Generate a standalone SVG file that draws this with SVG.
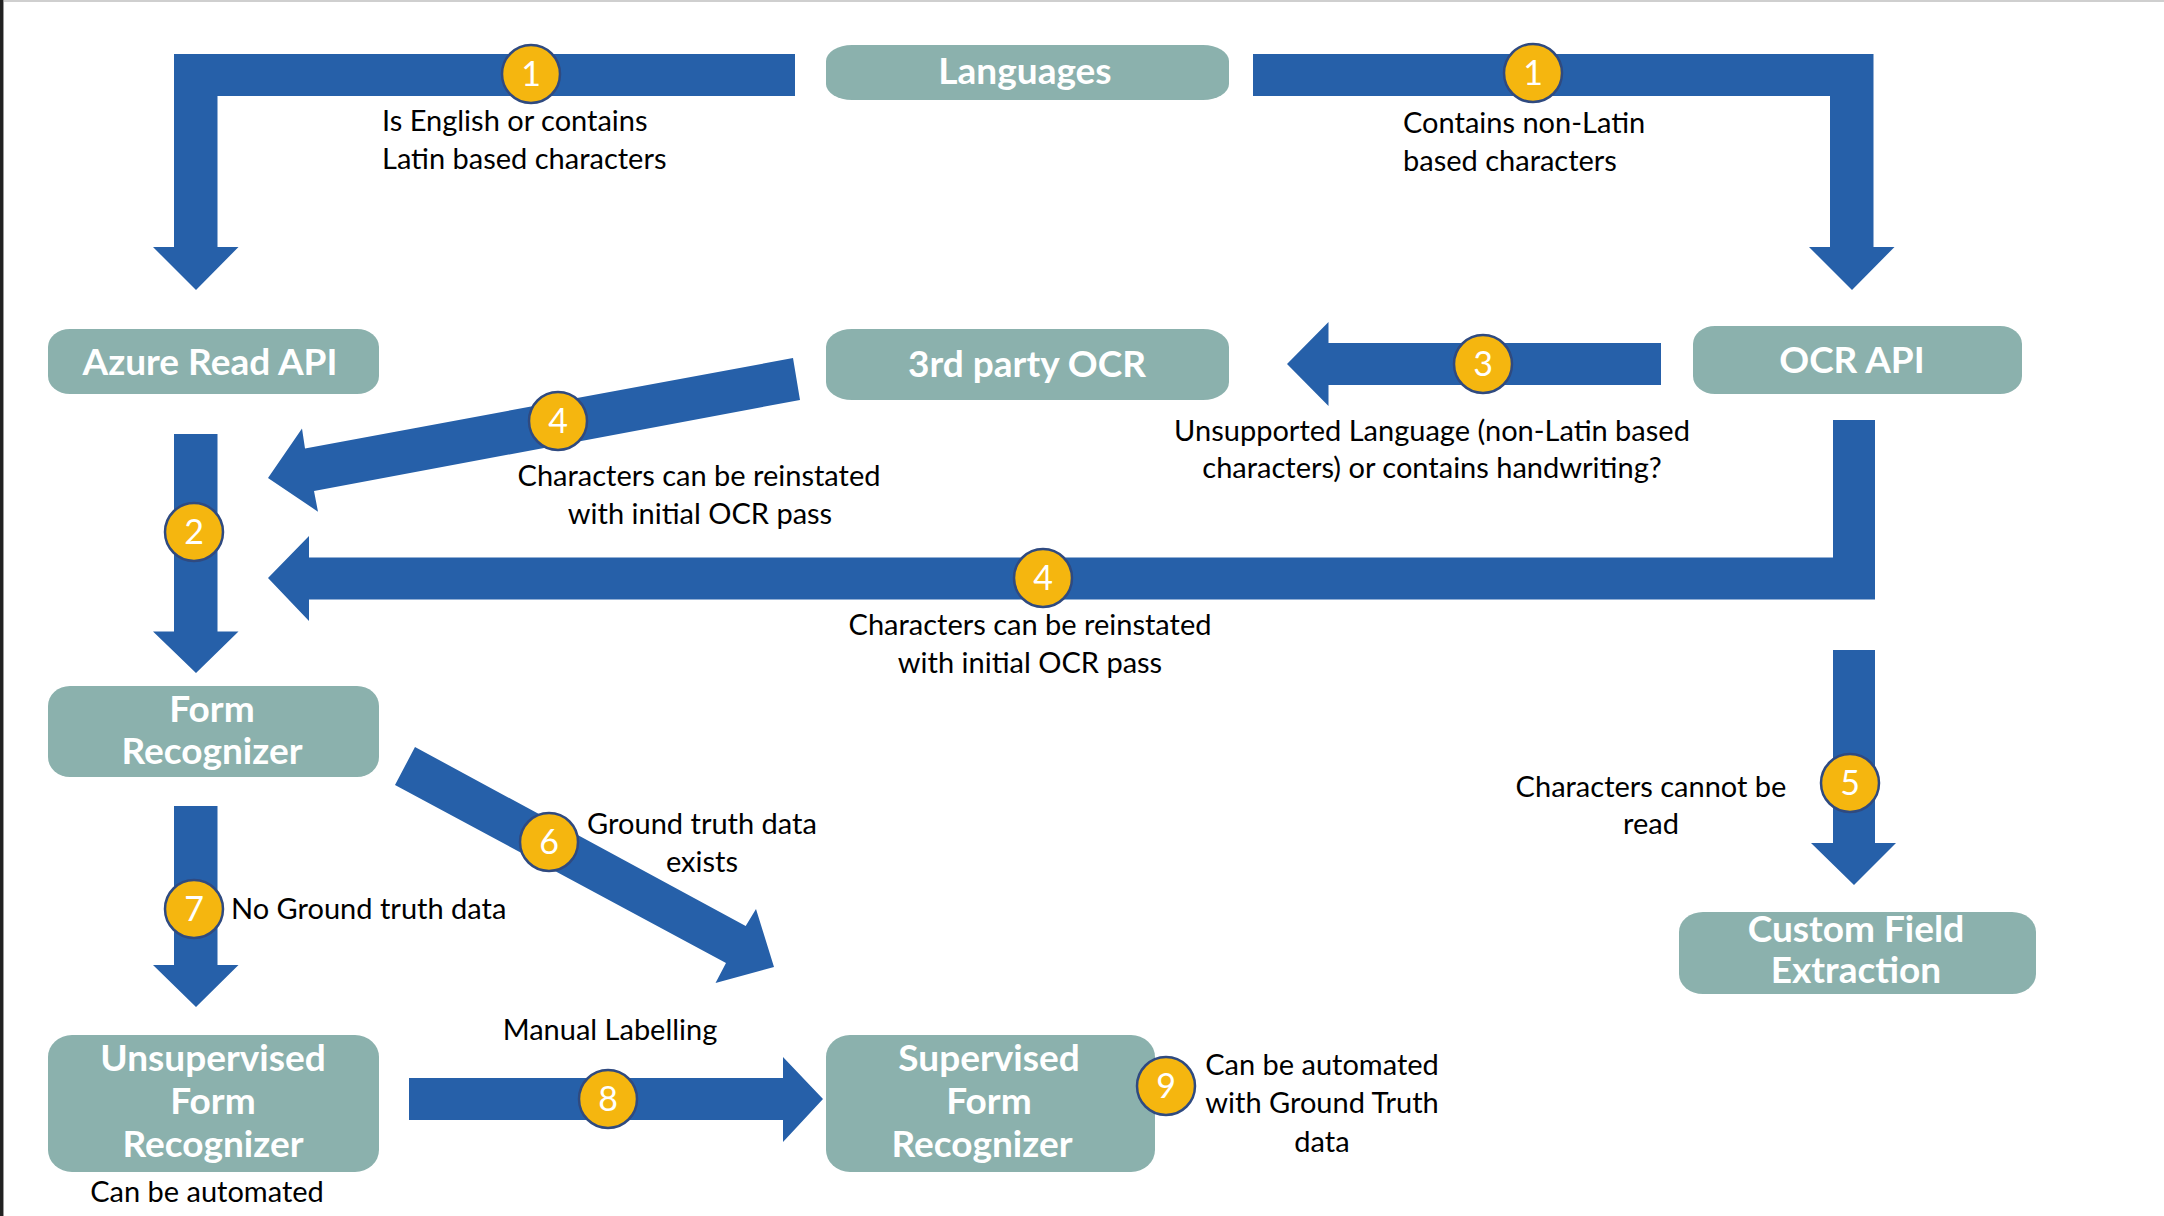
<svg xmlns="http://www.w3.org/2000/svg" width="2164" height="1216" viewBox="0 0 2164 1216">
<defs>
<style>
.node rect{fill:#8BB1AD;}
.node text{font-family:Lato,"Open Sans","Liberation Sans",sans-serif;font-weight:bold;font-size:37px;fill:#FFFFFF;text-anchor:middle;}
.arrow{fill:#2660A9;}
.badge circle{fill:#F5B60F;stroke:#2F4A80;stroke-width:2.5;}
.badge text{font-family:Lato,"Open Sans","Liberation Sans",sans-serif;font-size:34px;fill:#FFFFFF;text-anchor:middle;}
.lbl{font-family:Lato,"Open Sans","Liberation Sans",sans-serif;font-size:29px;fill:#000000;}
.mid{text-anchor:middle;}
</style>
</defs>
<rect x="0" y="0" width="2164" height="1216" fill="#FFFFFF"/>
<rect x="0" y="0" width="2164" height="2" fill="#CFCFCF"/>
<rect x="0" y="0" width="3" height="1216" fill="#222222"/>
<rect x="3" y="0" width="1" height="1216" fill="#9A9A9A"/>

<g id="connectors">
  <polygon class="arrow" points="795,54 174,54 174,247 153,247 196,290 238.5,247 217.5,247 217.5,96 795,96"/>
  <polygon class="arrow" points="1253,54 1873.5,54 1873.5,247 1894.5,247 1852,290 1809,247 1830,247 1830,96 1253,96"/>
  <polygon class="arrow" points="1661,343 1328.5,343 1328.5,322 1287,364 1328.5,406 1328.5,385 1661,385"/>
  <polygon class="arrow" points="793,358 305,448.5 302,428.6 268,478 318,511.7 314,491 800,400"/>
  <polygon class="arrow" points="1875,420 1875,599.5 309,599.5 309,621 268,578 309,536 309,557.5 1833,557.5 1833,420"/>
  <polygon class="arrow" points="174,434 217.5,434 217.5,631.5 238.5,631.5 196,673 153,631.5 174,631.5"/>
  <polygon class="arrow" points="1833,650 1875,650 1875,843 1896,843 1854,885 1811,843 1833,843"/>
  <polygon class="arrow" points="174,806 217.5,806 217.5,965 238.5,965 196,1007 153,965 174,965"/>
  <polygon class="arrow" points="415,747 745.7,926 756,909 774,967 715.5,983 726,963 395,785"/>
  <polygon class="arrow" points="409,1078 783,1078 783,1057 823,1099 783,1142 783,1120 409,1120"/>
</g>

<g id="node-languages" class="node"><rect x="826" y="45" width="403" height="55" rx="26" ry="16"/><text x="1025" y="84">Languages</text></g>
<g id="node-azure-read-api" class="node"><rect x="48" y="329" width="331" height="65" rx="22" ry="18"/><text x="210" y="375">Azure Read API</text></g>
<g id="node-3rd-party-ocr" class="node"><rect x="826" y="329" width="403" height="71" rx="26" ry="18"/><text x="1027" y="377">3rd party OCR</text></g>
<g id="node-ocr-api" class="node"><rect x="1693" y="326" width="329" height="68" rx="22" ry="18"/><text x="1852" y="373">OCR API</text></g>
<g id="node-form-recognizer" class="node"><rect x="48" y="686" width="331" height="91" rx="22" ry="20"/><text x="212" y="722">Form</text><text x="212" y="764">Recognizer</text></g>
<g id="node-unsupervised" class="node"><rect x="48" y="1035" width="331" height="137" rx="24" ry="22"/><text x="213" y="1071">Unsupervised</text><text x="213" y="1114">Form</text><text x="213" y="1157">Recognizer</text></g>
<g id="node-supervised" class="node"><rect x="826" y="1035" width="329" height="137" rx="24" ry="22"/><text x="989" y="1071">Supervised</text><text x="989" y="1114">Form</text><text x="982" y="1157">Recognizer</text></g>
<g id="node-custom-field" class="node"><rect x="1679" y="912" width="357" height="82" rx="24" ry="20"/><text x="1856" y="942">Custom Field</text><text x="1856" y="983">Extraction</text></g>

<g id="badges">
  <g class="badge"><circle cx="531" cy="74" r="29"/><text x="531" y="86">1</text></g>
  <g class="badge"><circle cx="1533" cy="73" r="29"/><text x="1533" y="85">1</text></g>
  <g class="badge"><circle cx="1483" cy="364" r="29"/><text x="1483" y="376">3</text></g>
  <g class="badge"><circle cx="558" cy="421" r="29"/><text x="558" y="433">4</text></g>
  <g class="badge"><circle cx="194" cy="532" r="29"/><text x="194" y="544">2</text></g>
  <g class="badge"><circle cx="1043" cy="578" r="29"/><text x="1043" y="590">4</text></g>
  <g class="badge"><circle cx="1850" cy="783" r="29"/><text x="1850" y="795">5</text></g>
  <g class="badge"><circle cx="549" cy="842" r="29"/><text x="549" y="854">6</text></g>
  <g class="badge"><circle cx="194" cy="909" r="29"/><text x="194" y="921">7</text></g>
  <g class="badge"><circle cx="608" cy="1099" r="29"/><text x="608" y="1111">8</text></g>
  <g class="badge"><circle cx="1166" cy="1086" r="29"/><text x="1166" y="1098">9</text></g>
</g>

<g id="labels">
  <text class="lbl" x="382" y="131">Is English or contains</text>
  <text class="lbl" x="382" y="169">Latin based characters</text>
  <text class="lbl" x="1403" y="133">Contains non-Latin</text>
  <text class="lbl" x="1403" y="171">based characters</text>
  <text class="lbl mid" x="1432" y="441">Unsupported Language (non-Latin based</text>
  <text class="lbl mid" x="1432" y="478">characters) or contains handwriting?</text>
  <text class="lbl mid" x="699" y="486">Characters can be reinstated</text>
  <text class="lbl mid" x="700" y="524">with initial OCR pass</text>
  <text class="lbl mid" x="1030" y="635">Characters can be reinstated</text>
  <text class="lbl mid" x="1030" y="673">with initial OCR pass</text>
  <text class="lbl mid" x="1651" y="797">Characters cannot be</text>
  <text class="lbl mid" x="1651" y="834">read</text>
  <text class="lbl mid" x="702" y="834">Ground truth data</text>
  <text class="lbl mid" x="702" y="872">exists</text>
  <text class="lbl" x="231" y="919">No Ground truth data</text>
  <text class="lbl mid" x="610" y="1040">Manual Labelling</text>
  <text class="lbl mid" x="207" y="1202">Can be automated</text>
  <text class="lbl mid" x="1322" y="1075">Can be automated</text>
  <text class="lbl mid" x="1322" y="1113">with Ground Truth</text>
  <text class="lbl mid" x="1322" y="1152">data</text>
</g>
</svg>
